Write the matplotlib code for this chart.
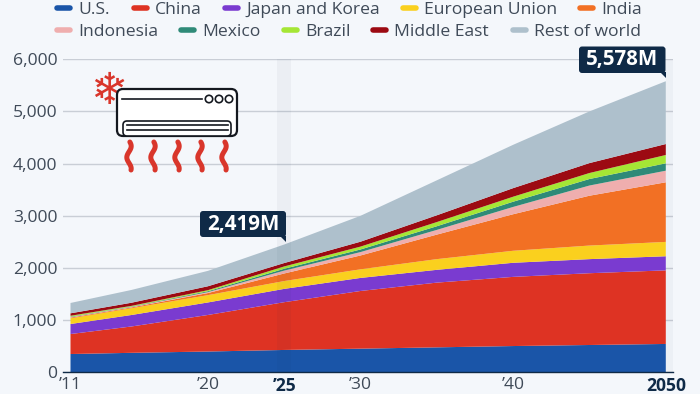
import matplotlib
matplotlib.use("Agg")
import matplotlib.pyplot as plt
import numpy as np
from matplotlib.patches import FancyBboxPatch, Polygon

plt.rcParams['font.family'] = ['Open Sans', 'DejaVu Sans']

# millions of units per region, stacked from the bottom up
years = [2011, 2015, 2020, 2025, 2030, 2035, 2040, 2045, 2050]
us = [352, 375, 400, 430, 455, 480, 505, 525, 545]
china = [383, 505, 700, 915, 1105, 1240, 1325, 1375, 1410]
japan_korea = [192, 220, 240, 255, 250, 245, 270, 270, 270]
eu = [109, 130, 140, 150, 165, 205, 230, 260, 275]
india = [14, 15, 40, 145, 265, 470, 700, 955, 1142]
indonesia = [10, 10, 18, 55, 65, 90, 140, 195, 222]
mexico = [8, 7, 17, 35, 50, 70, 100, 125, 141]
brazil = [17, 13, 20, 45, 55, 80, 96, 115, 160]
middle_east = [47, 60, 75, 65, 94, 130, 164, 190, 210]
rest = [198, 245, 295, 355, 496, 670, 830, 990, 1203]

names = ["U.S.", "China", "Japan and Korea", "European Union", "India",
         "Indonesia", "Mexico", "Brazil", "Middle East", "Rest of world"]
colors = ["#1a55a8", "#de3323", "#7a3bd0", "#fad01e", "#f27024",
          "#efaeae", "#2f8a78", "#a5e635", "#9c0a12", "#aec0cc"]

y_ticks = [0, 1000, 2000, 3000, 4000, 5000, 6000]
x_ticks = [2011, 2020, 2025, 2030, 2040, 2050]
x_labels = ["’11", "’20", "’25", "’30", "’40", "2050"]

bg = "#f4f7fb"
navy = "#0f2a47"
grey_text = "#3f4a58"

fig = plt.figure(figsize=(7, 3.94), dpi=100, facecolor=bg)
ax = fig.add_axes([63 / 700, (394 - 372.4) / 394, 610 / 700, 313.2 / 394], facecolor=bg)

ax.stackplot(years, us, china, japan_korea, eu, india, indonesia, mexico, brazil,
             middle_east, rest, colors=colors, zorder=2, linewidth=0)

px_year = 595 / 39
ax.set_xlim(2011 - 7.5 / px_year, 2050 + 7.2 / px_year)
ax.set_ylim(0, 6000)

ax.axvspan(2025 - 7 / px_year, 2025 + 7 / px_year, color=navy, alpha=0.04, lw=0, zorder=3)
ax.axvspan(2050, 2050 + 7 / px_year, color=navy, alpha=0.03, lw=0, zorder=3)

ax.yaxis.grid(True, color="#c9ced6", lw=1)
ax.set_axisbelow(True)
for s in ["top", "left", "right"]:
    ax.spines[s].set_visible(False)
ax.spines["bottom"].set_color(navy)
ax.spines["bottom"].set_linewidth(1)

ax.set_yticks(y_ticks)
ax.set_yticklabels([f"{v:,}" for v in y_ticks], fontsize=12.6, color=grey_text)
ax.set_xticks(x_ticks)
ax.set_xticklabels(x_labels, fontsize=12.6, color=grey_text)
ax.tick_params(axis="both", length=0)
ax.tick_params(axis="y", pad=4)
ax.tick_params(axis="x", pad=3)
for lab in ax.get_xticklabels():
    if lab.get_text() in ("’25", "2050"):
        lab.set_fontweight("bold")
        lab.set_color(navy)

# overlay in pixel coordinates for legend, callouts and icon
ov = fig.add_axes([0, 0, 1, 1], facecolor="none")
ov.set_xlim(0, 700)
ov.set_ylim(394, 0)
ov.axis("off")

legend_x = [55, 132, 223, 401, 578, 55, 179, 282, 371, 511]
legend_y = [8] * 5 + [30] * 5
for name, c, lx, ly in zip(names, colors, legend_x, legend_y):
    ov.plot([lx + 2, lx + 15], [ly, ly], color=c, lw=4, solid_capstyle="round")
    ov.text(lx + 23, ly + 1.5, name, fontsize=12.6, color=grey_text, va="center", ha="left")


def callout(x0, x1, y0, y1, tip, label):
    ov.add_patch(FancyBboxPatch((x0 + 3, y0 + 3), x1 - x0 - 6, y1 - y0 - 6,
                                boxstyle="round,pad=3,rounding_size=3", fc=navy, ec="none"))
    ov.add_patch(Polygon([(x1 - 6, y1 - 1), (x1, y1 - 1), tip], fc=navy, ec="none"))
    ov.text((x0 + x1) / 2, (y0 + y1) / 2, label, color="white", fontsize=14.8,
            fontweight="bold", ha="center", va="center")


callout(200, 286, 211, 237, (286, 242), "2,419M")
callout(579, 665.5, 46.5, 73, (665.5, 78), "5,578M")

# air conditioner icon
red = "#d9362b"
ov.add_patch(FancyBboxPatch((120, 92), 114, 41, boxstyle="round,pad=3,rounding_size=6",
                            fc="white", ec="#14181f", lw=1.6, zorder=5))
ov.plot([122, 202], [99, 99], color="#14181f", lw=1.2, zorder=6)
for cx in [209, 219, 229]:
    ov.add_patch(plt.Circle((cx, 99), 3.7, fc="white", ec="#14181f", lw=1.2, zorder=6))
ov.add_patch(FancyBboxPatch((124, 122), 106, 13, boxstyle="round,pad=1,rounding_size=4",
                            fc="white", ec="#14181f", lw=1.2, zorder=6))
ov.plot([127, 228], [125, 125], color="#14181f", lw=1.2, zorder=7)
ov.plot([127, 228], [129.5, 129.5], color="#14181f", lw=1.2, zorder=7)
ov.text(108.5, 91, "❄", color=red, fontsize=32, family="DejaVu Sans", ha="center", va="center", zorder=4)
wave_t = np.linspace(0, 1, 40)
for wx in [129, 153, 177, 200, 224]:
    ov.plot(wx + 2.2 * np.sin(wave_t * 2 * np.pi * 1.25 + 0.4), 142 + wave_t * 28,
            color=red, lw=3.6, solid_capstyle="round", zorder=5)

fig.savefig("out.png", dpi=100, facecolor=bg)
